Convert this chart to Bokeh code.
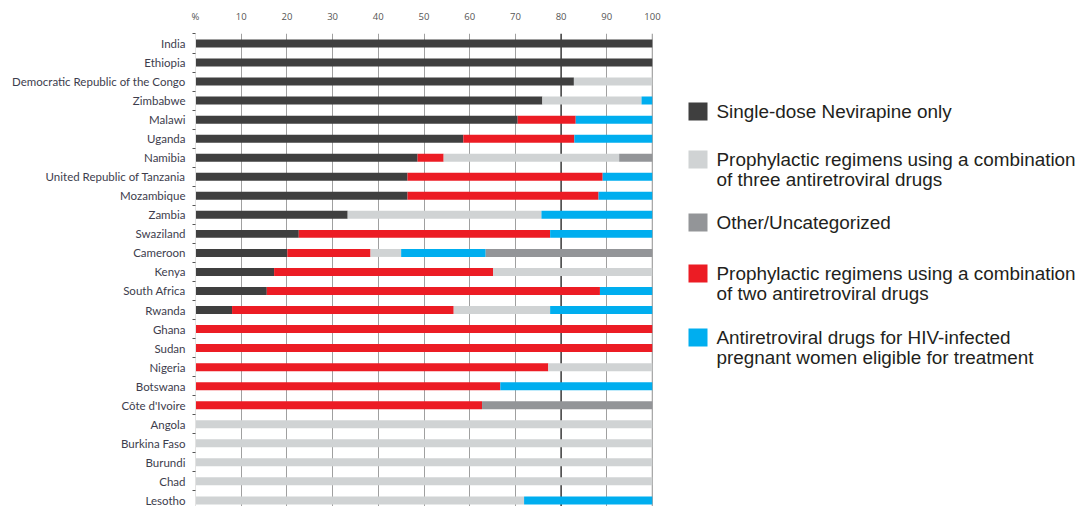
from bokeh.plotting import figure
from bokeh.models import ColumnDataSource, Range1d, FixedTicker, Span
from bokeh.layouts import row
from bokeh.core.properties import value
from bokeh.embed import file_html
from bokeh.resources import INLINE

countries = ["India", "Ethiopia", "Democratic Republic of the Congo", "Zimbabwe", "Malawi",
             "Uganda", "Namibia", "United Republic of Tanzania", "Mozambique", "Zambia",
             "Swaziland", "Cameroon", "Kenya", "South Africa", "Rwanda", "Ghana", "Sudan",
             "Nigeria", "Botswana", "Côte d'Ivoire", "Angola", "Burkina Faso", "Burundi",
             "Chad", "Lesotho"]
single_dose = [100, 100, 82.8, 75.9, 70.5, 58.6, 48.6, 46.4, 46.4, 33.3, 22.6, 20.1, 17.2, 15.6, 8.0,
               0, 0, 0, 0, 0, 0, 0, 0, 0, 0]
two_drugs = [0, 0, 0, 0, 12.7, 24.3, 5.7, 42.7, 41.8, 0, 55.0, 18.2, 47.9, 72.9, 48.5,
             100, 100, 77.2, 66.7, 62.7, 0, 0, 0, 0, 0]
three_drugs = [0, 0, 17.2, 21.7, 0, 0, 38.4, 0, 0, 42.4, 0, 6.7, 34.9, 0, 21.1,
               0, 0, 22.8, 0, 0, 100, 100, 100, 100, 71.9]
art_eligible = [0, 0, 0, 2.4, 16.8, 17.1, 0, 10.9, 11.8, 24.3, 22.4, 18.5, 0, 11.5, 22.4,
                0, 0, 0, 33.3, 0, 0, 0, 0, 0, 28.1]
other = [0, 0, 0, 0, 0, 0, 7.3, 0, 0, 0, 0, 36.5, 0, 0, 0,
         0, 0, 0, 0, 37.3, 0, 0, 0, 0, 0]

series_keys = ["single", "two", "three", "art", "other"]
series_colors = ["#3f3f3f", "#ec1c24", "#d0d3d4", "#00aeef", "#939598"]

legend_labels = [
    ["Single-dose Nevirapine only"],
    ["Prophylactic regimens using a combination", "of three antiretroviral drugs"],
    ["Other/Uncategorized"],
    ["Prophylactic regimens using a combination", "of two antiretroviral drugs"],
    ["Antiretroviral drugs for HIV-infected", "pregnant women eligible for treatment"],
]
legend_colors = ["#3f3f3f", "#d0d3d4", "#939598", "#ec1c24", "#00aeef"]

x_ticks = [0, 10, 20, 30, 40, 50, 60, 70, 80, 90, 100]
x_tick_labels = ["%", "10", "20", "30", "40", "50", "60", "70", "80", "90", "100"]

n = len(countries)
ypos = list(range(n))
source = ColumnDataSource(dict(y=ypos, country=countries, single=single_dose, two=two_drugs,
                               three=three_drugs, art=art_eligible, other=other))

p = figure(width=668, height=506, x_range=Range1d(0, 100), y_range=Range1d(24.32, -0.525),
           output_backend="svg", toolbar_location=None, x_axis_location="above", title=None,
           min_border_left=195, min_border_right=16, min_border_top=33, min_border_bottom=0,
           outline_line_color=None)

p.hbar_stack(series_keys, y="y", height=0.42, color=series_colors, source=source, line_width=0)

# x axis (top)
xa = p.xaxis[0]
xa.ticker = FixedTicker(ticks=x_ticks)
xa.major_label_overrides = {t: l for t, l in zip(x_ticks, x_tick_labels)}
xa.axis_line_color = None
xa.major_tick_line_color = None
xa.minor_tick_line_color = None
xa.major_label_standoff = 5
xa.major_label_text_font = "Open Sans"
xa.major_label_text_font_size = "9.5px"
xa.major_label_text_color = "#555555"

# y axis (countries)
ya = p.yaxis[0]
ya.ticker = FixedTicker(ticks=ypos, minor_ticks=[i - 0.5 for i in range(n + 1)])
ya.major_label_overrides = {i: c for i, c in enumerate(countries)}
ya.axis_line_color = "#e2e2e2"
ya.major_tick_line_color = None
ya.minor_tick_line_color = "#555555"
ya.minor_tick_in = 0
ya.minor_tick_out = 3
ya.major_label_standoff = 4
ya.major_label_text_font = "Lato"
ya.major_label_text_font_size = "11.5px"
ya.major_label_text_color = "#3d3d4d"

# grid
p.ygrid.visible = False
p.xgrid.ticker = FixedTicker(ticks=[t for t in x_ticks if t not in (0, 80, 100)])
p.xgrid.grid_line_color = "#a0a0a0"
p.xgrid.grid_line_width = 1
p.add_layout(Span(location=80, dimension="height", line_color="#1a1a1a", line_width=1.3, level="underlay"))
p.add_layout(Span(location=100, dimension="height", line_color="#555555", line_width=1.3, level="underlay"))

# legend panel (its frame is aligned with the main frame: page y 33..506)
lg = figure(width=412, height=506, x_range=Range1d(0, 412), y_range=Range1d(506, 33),
            output_backend="svg", toolbar_location=None, min_border=0, title=None,
            x_axis_location=None, y_axis_location=None, outline_line_color=None)
lg.grid.visible = False

entry_y = [111, 159, 222, 273, 337]
line_gap = 19.5
sq_x, sq_y, sq_c = [], [], []
tx, ty, tt = [], [], []
for yy, lines, col in zip(entry_y, legend_labels, legend_colors):
    sq_x.append(29.5)
    sq_y.append(yy)
    sq_c.append(col)
    for k, line in enumerate(lines):
        tx.append(48)
        ty.append(yy + k * line_gap)
        tt.append(line)

lg.rect(x=sq_x, y=sq_y, width=19, height=18, fill_color=sq_c, line_color=None)
lg.text(x=tx, y=ty, text=tt, text_baseline="middle", text_align="left",
        text_font=value("Liberation Sans"), text_font_size="18.9px", text_color="#231f20")

layout = row(p, lg)
open("out.html", "w").write(file_html(layout, INLINE))
